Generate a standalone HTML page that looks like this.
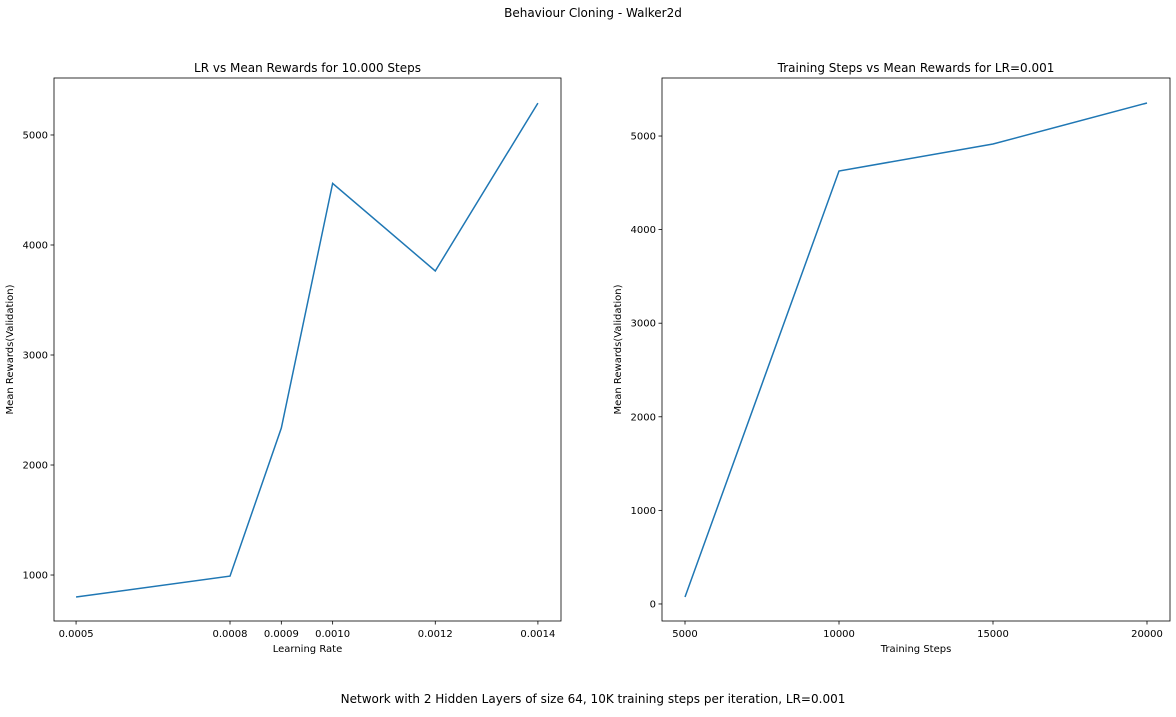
<!DOCTYPE html>
<html><head><meta charset="utf-8"><style>
body{margin:0;background:#fff;}
svg text{font-family:"DejaVu Sans","Liberation Sans",sans-serif;fill:#000;}
</style></head><body>
<svg id="c" width="1176" height="712" xmlns="http://www.w3.org/2000/svg">
<text x="593" y="17" font-size="12" text-anchor="middle">Behaviour Cloning - Walker2d</text>
<text x="593" y="703" font-size="12" text-anchor="middle">Network with 2 Hidden Layers of size 64, 10K training steps per iteration, LR=0.001</text>
</svg>
<script>
const lrCategories=[0.0005,0.0008,0.0009,0.0010,0.0012,0.0014];
const lrRewards=[800,990,2336,4560,3764,5290];
const lrXTicks=["0.0005","0.0008","0.0009","0.0010","0.0012","0.0014"];
const lrYTicks=[1000,2000,3000,4000,5000];
const stepCategories=[5000,10000,15000,20000];
const stepRewards=[75,4626,4915,5353];
const stepXTicks=[5000,10000,15000,20000];
const stepYTicks=[0,1000,2000,3000,4000,5000];

const NS="http://www.w3.org/2000/svg";
const svg=document.getElementById('c');
function mk(t,a,p){const e=document.createElementNS(NS,t);for(const k in a)e.setAttribute(k,a[k]);(p||svg).appendChild(e);return e;}

function panel(o){
  const g=mk('g',{});
  
  
  const sx=v=>o.x0+(v-o.xmin)/(o.xmax-o.xmin)*(o.x1-o.x0);
  const sy=v=>o.y1-(v-o.ymin)/(o.ymax-o.ymin)*(o.y1-o.y0);
  const fr=mk('rect',{x:o.x0,y:o.y0,width:o.x1-o.x0,height:o.y1-o.y0,fill:'none',stroke:'#000','stroke-width':0.8},g);
  
  
  o.xt.forEach((t,i)=>{const x=sx(o.xv[i]);
    mk('line',{x1:x,x2:x,y1:o.y1,y2:o.y1+3.5,stroke:'#000','stroke-width':0.8},g);
    const tx=mk('text',{x:x,y:o.y1+16,'font-size':10,'text-anchor':'middle'},g);tx.textContent=t;
    
    });
  o.yt.forEach(t=>{const y=sy(t);
    mk('line',{x1:o.x0,x2:o.x0-3.5,y1:y,y2:y,stroke:'#000','stroke-width':0.8},g);
    const tx=mk('text',{x:o.x0-6,y:y+3.5,'font-size':10,'text-anchor':'end'},g);tx.textContent=t;
    
    });
  const pts=o.xv2.map((v,i)=>sx(v)+','+sy(o.yv[i])).join(' ');
  const pl=mk('polyline',{points:pts,fill:'none',stroke:'#1f77b4','stroke-width':1.5},g);
  
  
  const ti=mk('text',{x:(o.x0+o.x1)/2,y:o.y0-6,'font-size':12,'text-anchor':'middle'},g);ti.textContent=o.title;
  
  
  const xl=mk('text',{x:(o.x0+o.x1)/2,y:o.y1+31,'font-size':10,'text-anchor':'middle'},g);xl.textContent=o.xlabel;
  
  
  const yx=o.x0-41,yy=(o.y0+o.y1)/2;
  const yl=mk('text',{x:yx,y:yy,'font-size':10,'text-anchor':'middle',transform:`rotate(-90 ${yx} ${yy})`},g);yl.textContent='Mean Rewards(Validation)';
  
  
}
panel({name:'lr-chart',x0:54,x1:561,y0:78,y1:621,xmin:0.000457,xmax:0.001445,ymin:582,ymax:5518,
  xt:lrXTicks,xv:lrCategories,xv2:lrCategories,yv:lrRewards,yt:lrYTicks,
  title:'LR vs Mean Rewards for 10.000 Steps',xlabel:'Learning Rate'});
panel({name:'steps-chart',x0:662,x1:1170,y0:78,y1:621,xmin:4253,xmax:20747,ymin:-182,ymax:5620,
  xt:stepXTicks,xv:stepXTicks,xv2:stepCategories,yv:stepRewards,yt:stepYTicks,
  title:'Training Steps vs Mean Rewards for LR=0.001',xlabel:'Training Steps'});
</script>
</body></html>
